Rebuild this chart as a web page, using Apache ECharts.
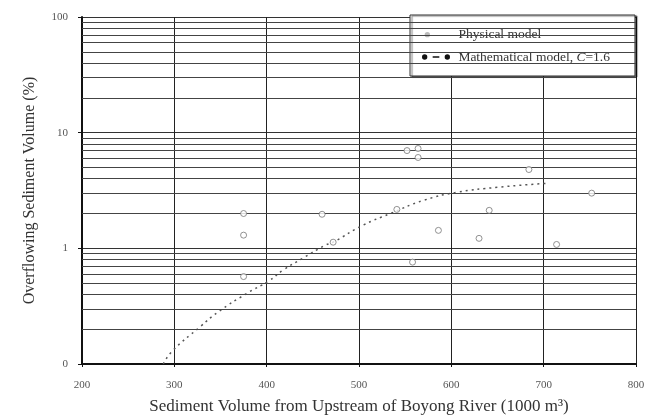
<!DOCTYPE html>
<html>
<head>
<meta charset="utf-8">
<script src="https://cdn.jsdelivr.net/npm/echarts@6/dist/echarts.min.js"></script>
<style>
  html, body { margin: 0; padding: 0; background: #fff; }
  #main { width: 659px; height: 420px; }
</style>
</head>
<body>
<div id="main"></div>
<script>
// physical model measurements (x: 1000 m3, y: %)
var physX = [375, 375, 375, 460, 472, 541, 552, 564, 564, 558, 586, 641, 630, 684, 714, 752];
var physY = [2.0, 1.3, 0.57, 1.97, 1.13, 2.17, 7.0, 7.3, 6.1, 0.76, 1.43, 2.13, 1.22, 4.8, 1.08, 3.0];

// mathematical model curve, C = 1.6
var mathX = [288, 298, 328, 347, 379, 402, 418, 439, 463, 472, 504, 534, 570, 606, 650, 704];
var mathY = [0.10, 0.13, 0.21, 0.28, 0.41, 0.52, 0.65, 0.82, 1.06, 1.13, 1.58, 2.0, 2.6, 3.05, 3.37, 3.65];

var xTicks = [200, 300, 400, 500, 600, 700, 800];
var yTickLabels = { 0.1: '0', 1: '1', 10: '10', 100: '100' };

// minor horizontal grid lines at 2..9 of each decade
var minorGrid = [];
[0.1, 1, 10].forEach(function (d) {
    for (var k = 2; k <= 9; k++) minorGrid.push(+(k * d).toFixed(4));
});

var serif = 'Liberation Serif';
var chart = echarts.init(document.getElementById('main'));

var option = {
    animation: false,
    grid: { left: 82, right: 23, top: 17, bottom: 56 },
    legend: {
        orient: 'vertical',
        left: 410,
        top: 15,
        padding: [12, 25, 12, 12],
        itemGap: 9,
        itemWidth: 28,
        itemHeight: 7,
        backgroundColor: '#fff',
        borderColor: '#333',
        borderWidth: 1,
        shadowColor: 'rgba(0,0,0,0.5)',
        shadowOffsetX: 2,
        shadowOffsetY: 1,
        shadowBlur: 1,
        textStyle: {
            fontFamily: serif, fontSize: 13.5, color: '#333',
            rich: { i: { fontFamily: serif, fontSize: 13.5, fontStyle: 'italic', color: '#333' } }
        },
        formatter: function (name) {
            return name === 'Math' ? ' Mathematical model, {i|C}=1.6' : ' Physical model';
        },
        data: [
            { name: 'Physical', icon: 'path://M2,3a2,2 0 1,0 4,0a2,2 0 1,0 -4,0z M0,0L0,0.01 M21,0L21,0.01', itemStyle: { color: '#aaa', borderWidth: 0 } },
            { name: 'Math', icon: 'path://M0,3.5a2,2 0 1,0 4,0a2,2 0 1,0 -4,0z M8,3h5v1h-5z M17,3.5a2,2 0 1,0 4,0a2,2 0 1,0 -4,0z', itemStyle: { color: '#111' } }
        ]
    },
    xAxis: {
        type: 'value',
        min: 200,
        max: 800,
        interval: 100,
        name: 'Sediment Volume from Upstream of Boyong River (1000 m³)',
        nameLocation: 'middle',
        nameGap: 34,
        nameTextStyle: { fontFamily: serif, fontSize: 17, color: '#333' },
        axisLine: { lineStyle: { color: '#111', width: 2 } },
        axisTick: { show: true, length: 3, lineStyle: { color: '#111' } },
        axisLabel: {
            margin: 16, fontFamily: serif, fontSize: 11, color: '#555',
            formatter: function (v) { return xTicks.indexOf(v) >= 0 ? String(v) : ''; }
        },
        splitLine: { show: true, lineStyle: { color: '#222', width: 1 } }
    },
    yAxis: {
        type: 'log',
        logBase: 10,
        min: 0.1,
        max: 100,
        name: 'Overflowing Sediment Volume (%)',
        nameLocation: 'middle',
        nameGap: 44,
        nameTextStyle: { fontFamily: serif, fontSize: 16, color: '#333' },
        axisLine: { show: true, lineStyle: { color: '#111', width: 2 } },
        axisTick: { show: true, length: 4, lineStyle: { color: '#111' } },
        axisLabel: {
            margin: 14, fontFamily: serif, fontSize: 11, color: '#555',
            formatter: function (v) {
                var k = +v.toPrecision(3);
                return yTickLabels[k] !== undefined ? yTickLabels[k] : '';
            }
        },
        splitLine: { show: true, lineStyle: { color: '#333', width: 1.2 } }
    },
    series: [
        {
            name: 'Grid',
            type: 'line',
            data: [],
            silent: true,
            markLine: {
                silent: true,
                symbol: 'none',
                label: { show: false },
                lineStyle: { color: '#444', width: 1.2, type: 'solid' },
                data: minorGrid.map(function (v) { return { yAxis: v }; })
            }
        },
        {
            name: 'Physical',
            type: 'scatter',
            symbol: 'circle',
            symbolSize: 6,
            itemStyle: { color: '#fff', borderColor: '#777', borderWidth: 1 },
            data: physX.map(function (x, i) { return [x, physY[i]]; }),
            z: 5
        },
        {
            name: 'Math',
            type: 'line',
            smooth: true,
            showSymbol: false,
            lineStyle: { color: '#555', width: 1.5, type: [2, 4] },
            itemStyle: { color: '#111' },
            data: mathX.map(function (x, i) { return [x, mathY[i]]; }),
            z: 4
        }
    ]
};

chart.setOption(option);
</script>
</body>
</html>
